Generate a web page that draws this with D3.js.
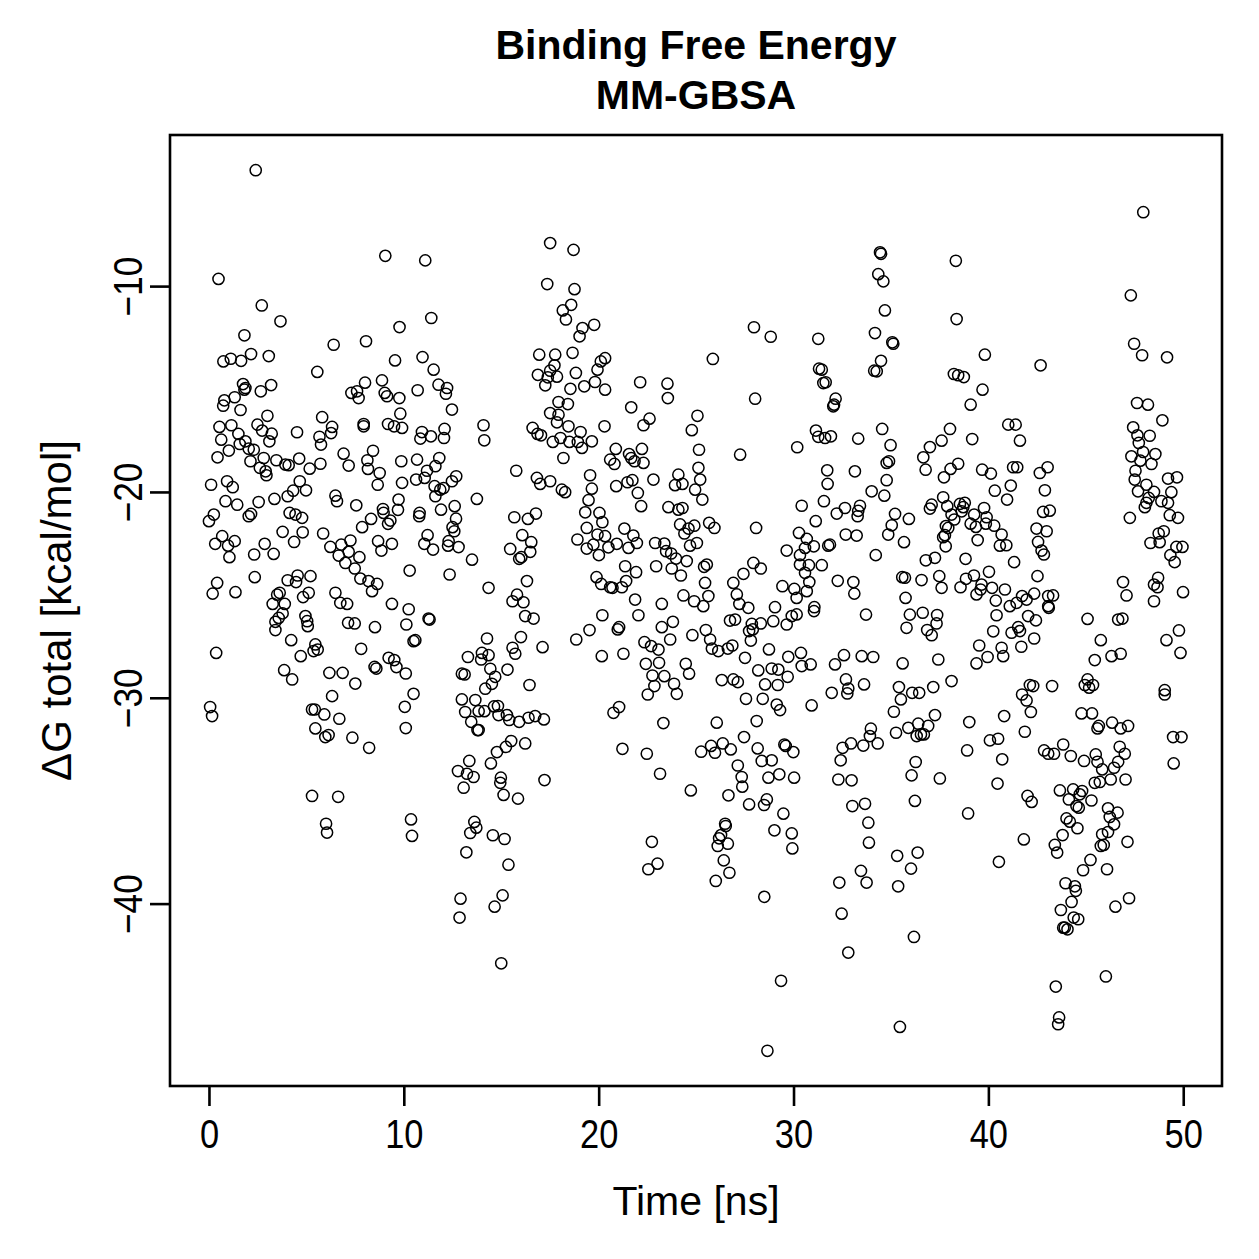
<!DOCTYPE html>
<html>
<head>
<meta charset="utf-8">
<script src="https://cdn.jsdelivr.net/npm/d3@7"></script>
<style>
  body { margin: 0; background: #fff; }
  text { font-family: "Liberation Sans", Arial, Helvetica, sans-serif; fill: #000; }
</style>
</head>
<body>
<svg id="chart" width="1259" height="1259"></svg>
<script>
// simulation time of each frame [ns]
var time = [
  2.40,9.05,0.49,2.71,3.67,9.78,1.82,6.40,8.06,9.55,
  0.74,1.12,1.65,2.16,3.07,5.56,1.75,1.87,1.82,2.66,
  3.19,7.31,7.60,7.68,8.01,8.88,9.02,9.14,9.77,0.79,
  0.73,1.32,1.62,3.00,5.81,0.54,1.15,1.51,2.49,2.73,
  3.22,3.10,4.52,6.32,6.27,5.67,5.75,7.94,7.94,9.19,
  9.50,9.91,9.82,0.63,0.44,1.02,1.58,1.87,2.04,2.30,
  2.13,2.81,2.61,2.91,2.95,3.46,3.92,4.09,4.63,5.17,
  5.72,6.91,7.17,8.42,8.13,8.16,8.76,8.66,9.87,9.91,
  0.11,0.93,1.22,0.85,1.45,2.55,3.36,2.16,2.04,4.04,
  4.32,4.66,4.98,4.14,4.44,4.78,6.49,6.57,7.56,8.32,
  7.86,8.93,8.96,9.19,9.31,9.70,9.73,0.00,0.25,0.32,
  0.68,0.98,1.32,1.05,2.32,2.86,3.32,3.78,4.37,4.81,
  5.86,6.23,6.79,6.66,7.26,7.17,7.00,7.72,7.48,7.77,
  8.19,8.37,8.63,8.68,8.85,9.39,0.42,0.19,1.36,2.35,
  4.04,4.55,4.47,5.21,5.12,4.83,3.63,3.50,3.27,3.89,
  6.49,6.74,7.09,9.39,3.78,3.58,3.41,3.41,4.95,5.04,
  5.07,4.22,4.71,5.46,5.58,5.37,7.14,7.48,8.52,7.81,
  9.22,9.51,9.62,8.50,8.59,10.10,0.37,3.86,4.27,6.18,
  6.86,7.51,6.32,0.06,0.16,5.29,5.43,5.92,6.69,5.46,
  5.97,6.14,7.36,8.22,10.05,10.10,5.29,6.63,6.01,6.06,
  10.37,10.42,11.10,17.51,18.71,11.41,17.36,18.76,18.16,18.59,
  18.32,19.17,19.02,19.77,10.96,11.53,11.78,12.22,12.16,12.47,
  10.71,10.93,10.85,11.39,12.09,12.06,14.09,14.13,16.95,17.77,
  17.73,16.88,17.51,17.39,17.26,17.86,18.66,18.83,18.55,19.26,
  19.81,19.94,20.11,20.33,17.94,18.42,17.51,17.94,17.86,18.45,
  16.61,16.86,17.04,17.65,18.04,18.50,19.07,18.93,19.14,19.65,
  18.19,20.33,20.30,10.68,11.19,10.63,11.07,11.62,11.82,12.69,
  12.47,11.58,11.87,12.04,11.62,11.91,12.61,12.68,12.50,12.59,
  11.22,11.05,11.50,12.30,12.27,12.81,10.81,10.79,13.75,15.77,
  16.83,17.00,17.51,18.11,18.28,19.56,19.65,19.48,19.31,19.39,
  20.04,20.19,18.91,19.73,19.94,20.01,19.39,15.67,16.37,16.78,
  16.08,16.54,16.49,15.46,15.92,16.03,13.50,10.30,12.35,14.35,
  16.32,15.81,15.58,16.14,19.89,20.13,10.25,10.13,11.27,11.32,
  10.50,10.59,10.50,14.27,16.01,15.58,15.72,17.12,13.29,14.01,
  13.97,14.35,12.98,13.12,14.44,14.69,15.32,14.52,14.18,16.45,
  18.85,19.53,20.19,20.16,12.98,13.67,13.15,13.84,14.14,14.63,
  14.83,14.86,15.29,15.41,15.92,16.40,16.74,17.19,13.46,13.84,
  13.78,15.51,15.24,14.78,14.47,16.23,13.36,12.78,13.24,13.58,
  13.07,14.98,14.95,15.12,15.86,17.22,13.62,13.72,13.41,14.57,
  15.17,13.21,15.37,12.91,12.86,15.07,14.66,15.00,16.23,16.66,
  27.97,28.83,25.86,22.13,23.53,23.55,28.03,21.67,22.30,22.61,
  24.78,25.07,20.88,20.59,20.81,21.56,21.67,21.84,22.22,22.30,
  25.15,25.12,25.21,27.26,30.19,20.90,21.48,21.73,22.01,22.18,
  22.81,24.09,23.92,24.30,24.95,25.32,23.58,24.09,24.30,30.42,
  20.33,20.50,20.93,21.32,21.78,21.96,21.53,24.18,24.40,24.61,
  24.91,25.04,24.69,25.67,25.94,28.08,22.90,23.37,23.46,23.72,
  23.97,24.52,22.95,23.75,24.22,25.41,25.55,25.46,25.63,21.36,
  21.92,21.41,20.59,20.71,21.19,21.87,23.24,24.35,24.90,27.94,
  28.32,27.43,26.91,27.09,27.22,27.68,29.65,30.28,30.33,30.59,
  29.43,30.04,30.16,30.59,29.05,25.37,22.04,21.05,20.98,21.27,
  23.24,23.81,23.67,22.35,22.69,23.07,22.42,23.10,22.76,23.37,
  22.86,22.52,23.87,24.01,24.47,24.64,24.81,25.50,25.72,25.81,
  26.14,26.63,26.86,26.32,26.91,27.14,26.74,27.00,27.86,27.72,
  27.81,27.91,28.32,27.51,28.96,29.65,29.91,30.16,28.74,29.73,
  30.38,30.42,28.19,28.88,29.22,29.70,28.54,29.19,27.56,28.42,
  29.14,29.31,28.11,20.76,21.05,23.32,26.06,21.22,22.47,23.15,
  24.73,25.26,25.77,25.97,26.37,26.78,27.46,28.16,28.37,28.88,
  29.53,29.60,29.99,27.14,27.34,27.37,26.66,27.72,28.71,29.27,
  30.03,28.63,28.49,29.48,26.49,26.52,26.28,26.18,26.11,26.63,
  26.42,26.71,26.01,29.02,29.91,29.94,22.73,23.02,22.55,28.50,
  29.36,28.66,34.44,34.49,34.35,34.61,34.69,34.18,35.07,35.12,
  34.49,34.14,34.27,38.33,38.37,39.82,31.27,31.31,31.45,31.53,
  31.65,32.08,32.16,32.04,38.23,38.45,38.74,39.70,39.09,31.15,
  31.27,31.62,31.92,33.32,34.55,34.98,34.78,34.90,34.78,34.01,
  34.66,31.73,31.75,33.15,31.56,31.14,32.22,32.64,33.41,33.32,
  33.29,35.21,35.92,35.04,34.86,35.67,32.68,33.24,34.22,30.68,
  31.04,30.33,30.79,31.45,30.81,30.68,31.78,31.87,31.07,32.27,
  33.07,33.12,35.58,35.72,35.75,36.57,38.03,37.60,37.00,36.66,
  36.78,37.72,38.06,38.45,39.17,39.68,40.13,40.33,37.68,37.09,
  37.00,37.89,38.11,38.25,38.54,38.71,38.79,38.63,39.09,39.36,
  39.27,39.78,39.91,39.87,40.30,40.68,40.59,37.82,37.94,37.77,
  37.68,37.81,39.45,38.83,36.79,37.26,37.48,37.60,38.57,38.85,
  39.26,39.65,39.60,39.39,40.03,40.19,40.38,40.85,31.05,33.72,
  35.97,36.63,37.37,37.34,36.86,37.09,35.80,40.42,40.25,39.53,
  39.96,39.39,40.68,40.76,30.88,32.13,32.59,33.50,34.09,35.60,
  37.43,38.11,32.69,32.81,32.76,31.96,33.62,30.93,35.41,35.51,
  35.15,36.09,36.45,37.17,37.26,36.91,36.40,35.89,35.26,36.32,
  36.54,36.69,39.02,33.97,33.92,34.32,33.58,32.95,32.52,32.42,
  38.91,40.08,40.50,40.71,40.81,36.27,36.06,37.51,32.30,32.98,
  36.23,38.96,40.47,33.02,33.67,33.84,33.87,35.32,36.37,36.03,
  35.37,33.46,33.75,32.35,40.54,32.47,36.18,32.81,35.46,47.95,
  47.31,47.48,47.89,49.17,42.68,41.02,41.40,41.62,41.27,41.48,
  42.64,43.04,41.15,40.96,42.90,42.81,43.15,42.47,42.99,42.55,
  42.73,42.85,40.92,41.32,42.52,41.73,41.96,42.35,43.07,43.32,
  41.10,41.45,47.63,48.19,48.93,47.43,47.65,48.28,47.72,47.34,
  47.94,48.57,47.80,48.37,47.55,47.51,48.11,48.50,47.68,48.23,
  48.03,48.11,48.88,47.26,49.22,49.68,49.39,49.22,49.31,49.73,
  48.74,49.00,48.32,48.79,49.34,49.65,49.96,49.56,46.91,47.09,
  48.50,48.71,48.68,48.50,49.99,42.04,42.44,41.19,41.53,41.62,
  42.35,41.69,43.07,43.10,45.09,46.66,46.88,45.77,45.46,46.32,
  46.79,49.14,49.78,49.86,42.13,42.30,41.73,41.96,42.18,43.27,
  41.87,45.09,44.95,45.17,45.37,44.78,45.32,49.05,49.05,45.67,
  45.60,46.35,46.79,47.17,49.48,49.91,49.51,42.86,43.07,43.37,
  43.84,44.23,44.91,45.51,45.60,45.84,46.74,47.00,46.66,46.45,
  46.28,47.04,45.46,45.72,42.01,42.22,43.67,44.35,44.81,44.69,
  44.13,45.29,44.52,44.64,46.14,46.63,46.23,46.45,46.14,45.84,
  45.92,45.77,47.14,44.01,44.18,44.57,43.81,43.41,43.53,41.82,
  45.24,44.86,46.09,43.96,44.44,44.49,44.27,43.72,44.61,44.38,
  43.92,44.06,43.84,47.22,46.52,43.46,46.03,43.63,43.58
];

// MM-GBSA total binding free energy of each frame [kcal/mol]
var dG = [
  -4.37,-8.53,-9.65,-10.94,-11.71,-11.99,-12.39,-12.85,-12.68,-13.61,
  -13.66,-13.53,-13.63,-13.30,-13.40,-14.17,-14.76,-14.95,-15.03,-15.11,
  -14.81,-15.19,-15.11,-15.44,-14.69,-14.58,-15.19,-15.35,-15.44,-15.55,
  -15.81,-15.40,-16.02,-16.30,-16.37,-16.84,-16.76,-17.18,-16.73,-17.02,
  -17.17,-17.54,-17.10,-16.84,-17.14,-17.32,-17.70,-16.70,-16.81,-16.70,
  -16.81,-16.89,-16.20,-17.46,-18.32,-17.99,-17.67,-17.54,-17.90,-17.95,
  -18.51,-18.35,-18.83,-19.00,-19.19,-18.46,-18.67,-18.70,-18.38,-18.87,
  -18.63,-18.14,-18.72,-18.00,-18.46,-18.88,-19.08,-19.65,-18.51,-19.56,
  -19.65,-19.48,-19.77,-20.45,-20.62,-20.49,-20.34,-21.07,-21.18,-20.21,
  -19.94,-19.48,-19.92,-21.02,-21.10,-21.26,-20.18,-20.45,-20.65,-21.31,
  -21.71,-20.83,-21.02,-21.55,-21.39,-20.87,-20.37,-21.42,-21.10,-22.52,
  -22.15,-22.61,-22.39,-23.17,-23.04,-22.52,-23.01,-21.94,-22.43,-21.96,
  -22.02,-22.67,-22.56,-23.09,-22.36,-22.91,-23.45,-23.17,-23.72,-24.21,
  -24.33,-24.82,-24.47,-22.39,-22.85,-22.52,-24.42,-24.94,-24.87,-24.14,
  -24.29,-24.06,-24.38,-24.09,-24.90,-25.11,-24.90,-24.99,-25.44,-25.44,
  -24.90,-25.39,-25.44,-25.44,-25.90,-26.12,-26.31,-26.71,-26.03,-26.28,
  -26.52,-27.20,-27.98,-27.41,-27.66,-27.73,-26.36,-26.39,-26.57,-27.62,
  -28.06,-28.17,-28.51,-28.50,-28.58,-28.82,-27.82,-28.66,-29.11,-28.79,
  -28.79,-29.31,-29.92,-30.45,-30.89,-30.57,-30.57,-30.81,-31.02,-31.49,
  -31.91,-31.81,-31.94,-32.43,-30.44,-31.47,-34.77,-34.81,-36.12,-36.55,
  -35.91,-36.71,-8.75,-7.91,-8.24,-11.55,-9.90,-10.15,-11.18,-10.91,
  -11.62,-12.04,-12.44,-11.88,-13.45,-14.06,-14.79,-14.95,-15.23,-16.00,
  -15.06,-17.09,-17.41,-17.30,-16.94,-17.38,-16.76,-17.49,-13.33,-13.33,
  -13.85,-14.31,-14.11,-14.43,-14.82,-14.40,-13.24,-14.22,-14.99,-14.87,
  -14.66,-14.06,-13.66,-13.50,-15.63,-15.73,-16.17,-16.25,-16.62,-16.81,
  -16.89,-17.18,-17.25,-17.57,-17.38,-17.57,-17.09,-17.57,-17.86,-17.54,
  -18.35,-15.03,-16.81,-18.43,-18.97,-19.40,-19.32,-18.75,-18.35,-19.24,
  -19.48,-19.72,-19.89,-19.81,-20.21,-20.86,-20.69,-21.30,-21.71,-21.91,
  -22.10,-22.52,-22.80,-22.39,-22.61,-22.68,-21.02,-21.18,-20.34,-18.97,
  -19.32,-19.61,-19.48,-19.89,-20.01,-19.19,-19.84,-20.40,-20.99,-21.75,
  -21.02,-21.47,-22.31,-22.56,-22.07,-23.07,-22.75,-21.23,-21.31,-21.05,
  -22.10,-22.44,-22.91,-22.77,-23.25,-23.17,-23.29,-23.82,-24.01,-24.66,
  -24.33,-24.99,-25.31,-25.36,-24.14,-24.47,-25.70,-26.44,-26.15,-26.20,
  -27.25,-27.20,-29.81,-27.12,-27.05,-27.57,-27.86,-27.54,-28.02,-27.82,
  -28.14,-27.93,-28.83,-28.87,-28.59,-28.98,-28.63,-29.32,-29.56,-29.38,
  -27.17,-26.71,-25.99,-27.98,-30.08,-30.11,-30.69,-30.65,-30.65,-30.42,
  -30.40,-30.84,-30.84,-31.08,-31.17,-30.97,-30.89,-31.05,-31.17,-31.57,
  -31.57,-32.10,-32.39,-32.64,-33.19,-32.22,-33.07,-33.56,-33.69,-33.85,
  -34.37,-33.88,-34.13,-34.72,-34.90,-34.00,-36.03,-36.31,-36.57,-36.68,
  -36.86,-37.51,-38.11,-39.76,-40.68,-39.60,-40.15,-42.90,-26.03,-26.15,
  -12.00,-12.46,-13.54,-14.67,-14.74,-15.44,-15.47,-15.89,-16.76,-16.44,
  -17.00,-16.30,-17.91,-18.43,-18.64,-18.16,-18.35,-18.51,-17.91,-18.59,
  -17.95,-18.83,-19.40,-18.19,-17.83,-19.72,-19.53,-19.43,-20.05,-20.69,
  -19.40,-19.16,-19.67,-19.61,-19.89,-20.37,-20.74,-20.86,-20.78,-20.67,
  -22.15,-22.69,-22.52,-21.78,-22.12,-22.48,-22.72,-21.58,-22.02,-21.78,
  -21.64,-22.48,-22.61,-21.50,-21.75,-21.75,-22.48,-22.51,-22.88,-22.99,
  -23.24,-23.36,-23.61,-23.72,-24.06,-23.64,-23.53,-24.42,-25.06,-23.61,
  -23.90,-24.33,-24.63,-24.66,-24.63,-25.23,-25.44,-25.03,-25.31,-23.45,
  -23.72,-23.98,-24.42,-24.98,-25.44,-25.63,-22.85,-21.99,-23.53,-22.72,
  -24.58,-24.71,-25.15,-23.93,-25.60,-25.55,-25.99,-26.57,-26.68,-27.86,
  -26.57,-26.31,-27.17,-27.30,-27.49,-27.66,-28.35,-28.30,-28.92,-28.95,
  -29.43,-29.84,-29.32,-29.81,-28.35,-28.83,-26.96,-26.71,-27.17,-27.61,
  -27.73,-27.61,-27.46,-29.14,-29.11,-29.24,-26.25,-26.20,-26.41,-26.76,
  -27.22,-26.68,-26.39,-28.06,-26.28,-26.44,-26.03,-25.95,-27.65,-28.01,
  -27.82,-28.46,-28.67,-28.58,-28.63,-28.98,-29.35,-29.38,-30.05,-30.05,
  -30.33,-30.60,-31.13,-30.73,-30.45,-31.23,-31.21,-32.48,-32.72,-33.69,
  -34.50,-32.62,-32.34,-32.67,-32.22,-32.51,-31.91,-32.46,-33.07,-33.04,
  -32.27,-32.34,-32.64,-33.29,-33.85,-34.32,-34.74,-35.18,-33.88,-33.72,
  -33.88,-34.94,-35.21,-35.63,-36.12,-36.23,-36.67,-36.83,-37.20,-37.09,
  -37.90,-38.50,-38.90,-36.44,-36.59,-37.32,-37.00,-38.06,-38.33,-39.67,
  -43.75,-47.15,-8.36,-8.43,-9.42,-9.77,-11.18,-12.28,-12.73,-12.80,
  -13.63,-14.11,-14.14,-8.77,-11.60,-13.33,-12.56,-14.01,-14.06,-14.71,
  -14.67,-15.76,-15.47,-15.84,-14.27,-14.33,-14.42,-15.03,-15.76,-17.02,
  -17.32,-17.38,-17.30,-17.41,-16.94,-17.73,-18.59,-18.51,-19.43,-19.97,
  -20.18,-18.95,-19.61,-19.00,-20.45,-21.42,-21.05,-20.78,-20.67,-20.92,
  -21.18,-21.07,-21.31,-21.62,-22.07,-22.44,-22.07,-22.12,-23.07,-22.28,
  -22.64,-23.07,-23.56,-23.56,-24.38,-24.82,-22.61,-22.56,-25.60,-24.32,
  -24.38,-24.94,-24.14,-24.17,-25.15,-24.28,-16.94,-17.51,-17.82,-18.32,
  -18.92,-19.29,-18.88,-18.63,-17.43,-18.92,-19.11,-19.94,-20.26,-20.62,
  -20.81,-20.69,-21.10,-21.34,-20.58,-20.74,-20.53,-20.94,-21.54,-21.70,
  -21.10,-20.78,-21.23,-21.54,-21.64,-22.07,-22.61,-21.66,-21.75,-22.10,
  -22.20,-22.64,-22.34,-23.25,-23.32,-23.20,-24.09,-24.66,-24.63,-24.22,
  -24.06,-24.50,-24.74,-24.98,-23.88,-24.66,-25.28,-24.74,-25.79,-25.96,
  -25.96,-25.87,-25.98,-26.39,-26.71,-26.96,-26.60,-25.99,-26.77,-27.46,
  -28.02,-28.33,-27.57,-27.98,-28.38,-28.38,-27.93,-27.98,-28.02,-28.33,
  -28.14,-29.19,-29.11,-29.55,-29.79,-29.76,-29.35,-30.37,-29.48,-30.08,
  -30.68,-29.76,-29.76,-29.48,-30.84,-31.37,-31.26,-31.46,-31.70,-31.86,
  -31.78,-31.78,-31.18,-31.50,-31.86,-32.22,-32.32,-32.22,-32.43,-33.04,
  -32.56,-32.07,-31.99,-32.99,-30.89,-33.12,-33.77,-33.92,-33.97,-34.01,
  -35.01,-35.62,-34.17,-35.26,-35.15,-36.07,-37.04,-37.68,-37.52,-38.30,
  -39.16,-38.41,-38.98,-38.98,-37.97,-40.49,-41.62,-42.38,-45.99,-6.41,
  -10.45,-12.80,-13.36,-13.46,-13.85,-16.73,-16.73,-17.51,-18.80,-18.80,
  -19.08,-18.80,-19.69,-20.37,-19.92,-20.97,-20.91,-21.78,-21.91,-22.43,
  -22.85,-23.04,-22.59,-23.41,-24.09,-25.06,-25.23,-24.94,-25.06,-25.03,
  -25.55,-25.39,-15.68,-15.76,-16.52,-16.86,-17.25,-17.27,-17.62,-18.27,
  -18.06,-18.16,-18.48,-18.64,-18.97,-19.40,-19.65,-20.00,-19.97,-20.29,
  -20.74,-20.53,-20.45,-21.26,-19.35,-19.29,-20.01,-20.53,-21.13,-21.26,
  -22.02,-21.91,-22.48,-22.44,-23.07,-22.67,-22.67,-23.41,-24.38,-25.03,
  -24.50,-24.17,-24.63,-25.31,-24.87,-26.03,-26.24,-26.84,-26.57,-26.76,
  -27.12,-27.52,-25.55,-25.63,-26.17,-26.20,-26.15,-27.20,-28.17,-27.98,
  -27.86,-27.20,-26.73,-27.82,-29.38,-29.43,-29.84,-30.13,-30.69,-29.43,
  -31.65,-29.11,-29.38,-29.51,-29.38,-30.76,-30.76,-29.63,-29.84,-31.37,
  -31.49,-31.21,-31.49,-31.37,-31.91,-31.91,-33.19,-32.56,-32.72,-32.72,
  -32.27,-32.83,-33.07,-32.75,-33.11,-33.48,-32.38,-32.72,-33.11,-33.40,
  -33.97,-33.97,-34.13,-34.09,-34.77,-35.06,-34.50,-34.45,-34.53,-34.69,
  -34.94,-34.99,-35.26,-35.34,-35.37,-35.58,-35.79,-36.15,-36.52,-36.63,
  -37.15,-37.20,-37.00,-35.86,-36.02,-36.34,-36.67,-37.15,-37.52,-36.88,
  -37.88,-38.38,-38.33,-39.01,-39.16,-39.38,-39.92,-40.31,-40.76,-40.68,
  -41.17,-41.25,-41.17,-39.74,-40.15,-44.03,-43.54,-45.53,-45.86
];

var xTicks = [0, 10, 20, 30, 40, 50];
var yTicks = [-40, -30, -20, -10];
var titleLines = ["Binding Free Energy", "MM-GBSA"];

var svg = d3.select("#chart"),
    margin = {top: 135, right: 37, bottom: 173, left: 170},
    width = +svg.attr("width") - margin.left - margin.right,
    height = +svg.attr("height") - margin.top - margin.bottom,
    g = svg.append("g").attr("transform", "translate(" + margin.left + "," + margin.top + ")");

var points = d3.zip(time, dG);

// R style limits: data range plus 4% on each side
var tExt = d3.extent(time), gExt = d3.extent(dG);
var tPad = (tExt[1] - tExt[0]) * 0.04, gPad = (gExt[1] - gExt[0]) * 0.04;

var x = d3.scaleLinear()
    .domain([tExt[0] - tPad, tExt[1] + tPad])
    .range([0, width]);

var y = d3.scaleLinear()
    .domain([gExt[0] - gPad, gExt[1] + gPad])
    .range([height, 0]);

g.append("g")
    .selectAll("circle")
    .data(points)
    .enter().append("circle")
      .attr("cx", function(d) { return x(d[0]); })
      .attr("cy", function(d) { return y(d[1]); })
      .attr("r", 5.6)
      .attr("fill", "none")
      .attr("stroke", "#000")
      .attr("stroke-width", 1.5);

var xAxis = g.append("g")
    .attr("transform", "translate(0," + height + ")")
    .call(d3.axisBottom(x).tickValues(xTicks).tickFormat(d3.format("d")).tickSize(20).tickPadding(13));

var yAxis = g.append("g")
    .call(d3.axisLeft(y).tickValues(yTicks).tickFormat(d3.format("d")).tickSize(20));

[xAxis, yAxis].forEach(function(ax) {
  ax.select(".domain").remove();
  ax.selectAll(".tick line").attr("stroke", "#000").attr("stroke-width", 2.6);
  ax.selectAll(".tick text")
      .attr("fill", "#000")
      .style("font-size", "41px")
      .style("font-family", "\"Liberation Sans\", Arial, Helvetica, sans-serif");
});

// tick labels are a little narrower than the default face
xAxis.selectAll(".tick text")
    .attr("transform", "scale(0.84,1)");

yAxis.selectAll(".tick text")
    .attr("transform", "rotate(-90) scale(0.86,1)")
    .attr("text-anchor", "middle")
    .attr("x", 0)
    .attr("y", -28)
    .attr("dy", 0);

// plot frame
g.append("rect")
    .attr("width", width)
    .attr("height", height)
    .attr("fill", "none")
    .attr("stroke", "#000")
    .attr("stroke-width", 2.6);

svg.append("text")
    .attr("x", margin.left + width / 2)
    .attr("y", 1215)
    .attr("text-anchor", "middle")
    .style("font-size", "41px")
    .text("Time [ns]");

svg.append("text")
    .attr("transform", "translate(71," + (margin.top + height / 2) + ") rotate(-90)")
    .attr("text-anchor", "middle")
    .style("font-size", "42px")
    .text("\u0394G total [kcal/mol]");

svg.append("g")
    .selectAll("text")
    .data(titleLines)
    .enter().append("text")
      .attr("x", margin.left + width / 2)
      .attr("y", function(d, i) { return 59 + i * 50; })
      .attr("text-anchor", "middle")
      .style("font-size", "41px")
      .style("font-weight", "bold")
      .text(function(d) { return d; });
</script>
</body>
</html>
